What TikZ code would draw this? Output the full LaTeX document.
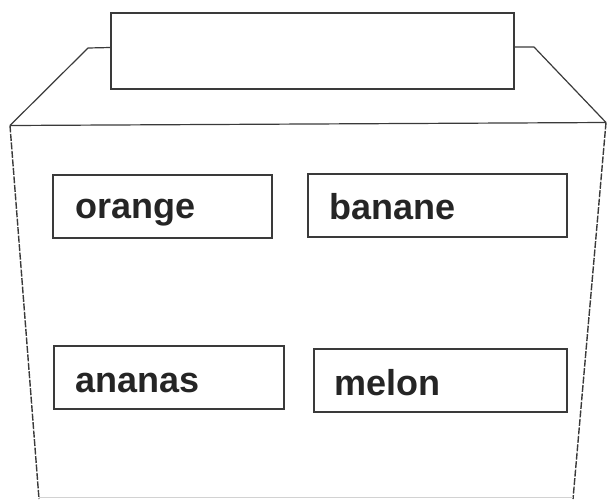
\documentclass[tikz,border=0pt]{standalone}
\usepackage{fontspec}
\setmainfont{Liberation Sans}
\definecolor{ink}{HTML}{3A3A3A}
\definecolor{txt}{HTML}{252525}
\begin{document}
\begin{tikzpicture}[x=1pt,y=-1pt,
  edge/.style={draw=ink,line width=1.2pt,line join=round},
  side/.style={draw=ink,line width=1.4pt,dash pattern=on 7pt off 1.5pt},
  faint/.style={draw=gray!35,line width=0.8pt},
  card/.style={draw=ink,line width=1.3pt,rectangle,inner sep=0pt,minimum height=63pt},
  lbl/.style={inner sep=0pt,anchor=base west,text=txt,font=\bfseries\fontsize{36}{40}\selectfont}]
\useasboundingbox (0,0) rectangle (607,499);
% lid and body corners
\coordinate (lt) at (10,125.5);
\coordinate (rt) at (606,122.5);
\coordinate (lb) at (39,499);
\coordinate (rb) at (573,499);
\coordinate (lc) at (88,48);
\coordinate (rc) at (534,47);
\coordinate (bl) at (39,497);
\coordinate (br) at (573,497);
% top slot box
\node[card,minimum width=403pt,minimum height=76pt] (slot) at (312.5,51) {};
\coordinate (sl) at (slot.west |- 0,47.5);
\coordinate (sr) at (slot.east |- 0,47);
% lid
\draw[edge] (lt) -- (lc) -- (sl);
\draw[edge] (sr) -- (rc) -- (rt);
\draw[edge] (lt) -- (rt);
% body sides
\draw[side] (lt) -- (lb);
\draw[side] (rt) -- (rb);
\draw[faint] (bl) -- (br);
% cards
\node[card,minimum width=219pt] (orange) at (162.5,206.5) {};
\node[card,minimum width=259pt] (banane) at (437.5,205.5) {};
\node[card,minimum width=230pt] (ananas) at (169,377.5) {};
\node[card,minimum width=253pt] (melon) at (440.5,380.5) {};
% labels
\node[lbl] (torange) at (75,218) {orange};
\node[lbl] (tbanane) at (329,219) {banane};
\node[lbl] (tananas) at (75,392) {ananas};
\node[lbl] (tmelon) at (334,395) {melon};
\end{tikzpicture}
\end{document}
